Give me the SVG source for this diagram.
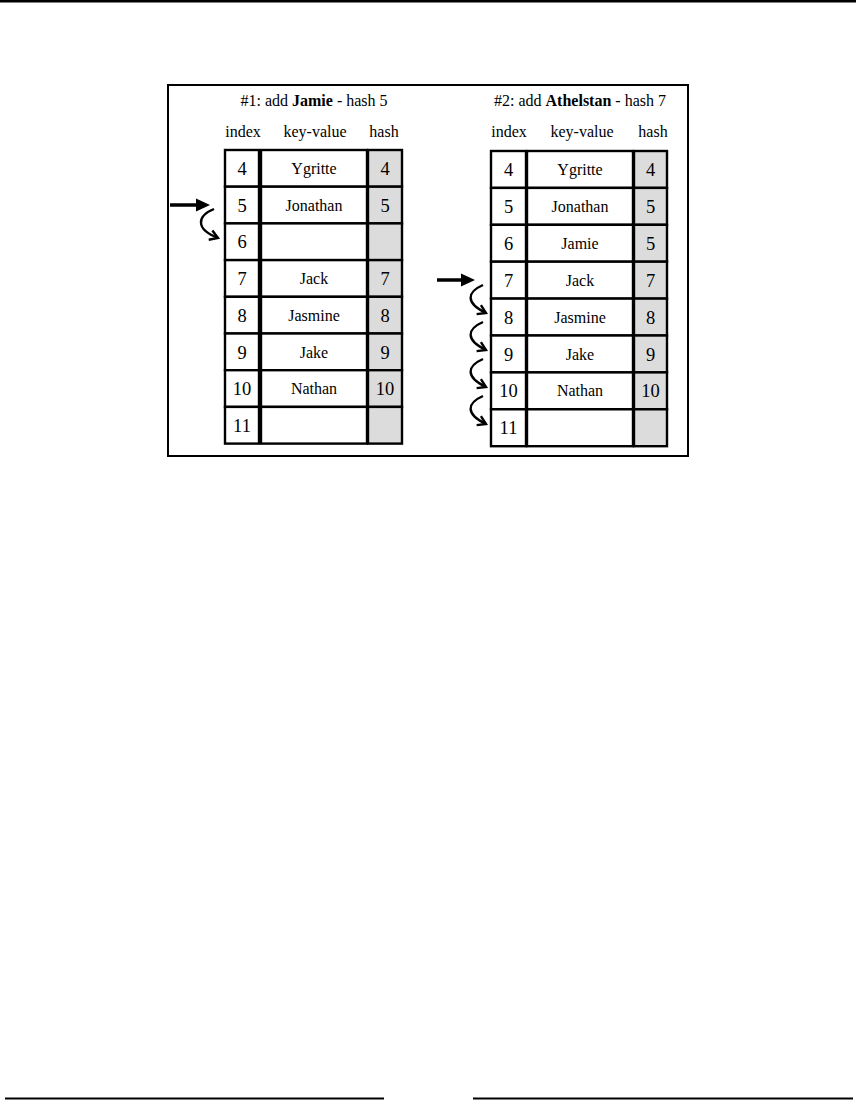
<svg xmlns="http://www.w3.org/2000/svg" width="856" height="1105" viewBox="0 0 856 1105" font-family="'Liberation Serif', 'DejaVu Serif', serif">
<style>
  text { font-family: 'Liberation Serif', 'DejaVu Serif', serif; fill: #000; }
  .hdr { font-size: 16px; text-anchor: middle; }
  .col { font-size: 16px; text-anchor: middle; }
  .num { font-size: 18.5px; text-anchor: middle; }
  .name { font-size: 16px; text-anchor: middle; }
  .cell { fill: #fff; stroke: #000; stroke-width: 2.4; }
  .hcell { fill: #dcdcdc; stroke: #000; stroke-width: 2.4; }
  .frame { fill: #fff; stroke: #000; stroke-width: 2; }
  .straight { fill: none; stroke: #000; stroke-width: 3.5; }
  .curve { fill: none; stroke: #000; stroke-width: 2.4; }
</style>
<defs>
  <marker id="solidHead" markerUnits="userSpaceOnUse" markerWidth="14" markerHeight="14" viewBox="0 0 14 14" refX="4" refY="7" orient="auto" overflow="visible">
    <path d="M0,0.5 L14,7 L0,13.5 z" fill="#000"/>
  </marker>
  <marker id="openHead" markerUnits="userSpaceOnUse" markerWidth="12" markerHeight="12" viewBox="0 0 12 12" refX="9" refY="6" orient="auto" overflow="visible">
    <path d="M1,1 L9,6 L1,11" fill="none" stroke="#000" stroke-width="2.4" stroke-linejoin="miter"/>
  </marker>
</defs>
<rect x="0" y="0" width="856" height="1105" fill="#fff"/>
<rect x="0" y="0" width="856" height="2.5" fill="#000"/>
<line x1="5" y1="1098.5" x2="384" y2="1098.5" stroke="#000" stroke-width="2"/>
<line x1="473" y1="1098.5" x2="853" y2="1098.5" stroke="#000" stroke-width="2"/>

<rect id="frame" class="frame" x="168" y="85" width="520" height="371"/>

<g id="left-header">
  <text class="hdr" x="314" y="106">#1: add <tspan font-weight="bold">Jamie</tspan> - hash 5</text>
  <text class="col" x="243" y="137">index</text>
  <text class="col" x="315" y="137">key-value</text>
  <text class="col" x="384" y="137">hash</text>
</g>

<g id="left-table">
  <g id="L4"><rect class="cell" x="225" y="150" width="34" height="36.7"/><rect class="cell" x="261" y="150" width="106" height="36.7"/><rect class="hcell" x="368" y="150" width="34" height="36.7"/>
    <text class="num" x="242" y="175">4</text><text class="name" x="314" y="174">Ygritte</text><text class="num" x="385" y="175">4</text></g>
  <g id="L5"><rect class="cell" x="225" y="186.7" width="34" height="36.7"/><rect class="cell" x="261" y="186.7" width="106" height="36.7"/><rect class="hcell" x="368" y="186.7" width="34" height="36.7"/>
    <text class="num" x="242" y="211.7">5</text><text class="name" x="314" y="210.7">Jonathan</text><text class="num" x="385" y="211.7">5</text></g>
  <g id="L6"><rect class="cell" x="225" y="223.4" width="34" height="36.7"/><rect class="cell" x="261" y="223.4" width="106" height="36.7"/><rect class="hcell" x="368" y="223.4" width="34" height="36.7"/>
    <text class="num" x="242" y="248.4">6</text></g>
  <g id="L7"><rect class="cell" x="225" y="260.1" width="34" height="36.7"/><rect class="cell" x="261" y="260.1" width="106" height="36.7"/><rect class="hcell" x="368" y="260.1" width="34" height="36.7"/>
    <text class="num" x="242" y="285.1">7</text><text class="name" x="314" y="284.1">Jack</text><text class="num" x="385" y="285.1">7</text></g>
  <g id="L8"><rect class="cell" x="225" y="296.8" width="34" height="36.7"/><rect class="cell" x="261" y="296.8" width="106" height="36.7"/><rect class="hcell" x="368" y="296.8" width="34" height="36.7"/>
    <text class="num" x="242" y="321.8">8</text><text class="name" x="314" y="320.8">Jasmine</text><text class="num" x="385" y="321.8">8</text></g>
  <g id="L9"><rect class="cell" x="225" y="333.5" width="34" height="36.7"/><rect class="cell" x="261" y="333.5" width="106" height="36.7"/><rect class="hcell" x="368" y="333.5" width="34" height="36.7"/>
    <text class="num" x="242" y="358.5">9</text><text class="name" x="314" y="357.5">Jake</text><text class="num" x="385" y="358.5">9</text></g>
  <g id="L10"><rect class="cell" x="225" y="370.2" width="34" height="36.7"/><rect class="cell" x="261" y="370.2" width="106" height="36.7"/><rect class="hcell" x="368" y="370.2" width="34" height="36.7"/>
    <text class="num" x="242" y="395.2">10</text><text class="name" x="314" y="394.2">Nathan</text><text class="num" x="385" y="395.2">10</text></g>
  <g id="L11"><rect class="cell" x="225" y="406.9" width="34" height="36.7"/><rect class="cell" x="261" y="406.9" width="106" height="36.7"/><rect class="hcell" x="368" y="406.9" width="34" height="36.7"/>
    <text class="num" x="242" y="431.9">11</text></g>
</g>

<g id="right-header">
  <text class="hdr" x="580" y="106">#2: add <tspan font-weight="bold">Athelstan</tspan> - hash 7</text>
  <text class="col" x="509" y="137">index</text>
  <text class="col" x="582" y="137">key-value</text>
  <text class="col" x="653" y="137">hash</text>
</g>

<g id="right-table">
  <g id="R4"><rect class="cell" x="491" y="151" width="35" height="36.9"/><rect class="cell" x="527" y="151" width="106" height="36.9"/><rect class="hcell" x="634" y="151" width="33" height="36.9"/>
    <text class="num" x="508.5" y="176">4</text><text class="name" x="580" y="175">Ygritte</text><text class="num" x="650.5" y="176">4</text></g>
  <g id="R5"><rect class="cell" x="491" y="187.9" width="35" height="36.9"/><rect class="cell" x="527" y="187.9" width="106" height="36.9"/><rect class="hcell" x="634" y="187.9" width="33" height="36.9"/>
    <text class="num" x="508.5" y="212.9">5</text><text class="name" x="580" y="211.9">Jonathan</text><text class="num" x="650.5" y="212.9">5</text></g>
  <g id="R6"><rect class="cell" x="491" y="224.8" width="35" height="36.9"/><rect class="cell" x="527" y="224.8" width="106" height="36.9"/><rect class="hcell" x="634" y="224.8" width="33" height="36.9"/>
    <text class="num" x="508.5" y="249.8">6</text><text class="name" x="580" y="248.8">Jamie</text><text class="num" x="650.5" y="249.8">5</text></g>
  <g id="R7"><rect class="cell" x="491" y="261.7" width="35" height="36.9"/><rect class="cell" x="527" y="261.7" width="106" height="36.9"/><rect class="hcell" x="634" y="261.7" width="33" height="36.9"/>
    <text class="num" x="508.5" y="286.7">7</text><text class="name" x="580" y="285.7">Jack</text><text class="num" x="650.5" y="286.7">7</text></g>
  <g id="R8"><rect class="cell" x="491" y="298.6" width="35" height="36.9"/><rect class="cell" x="527" y="298.6" width="106" height="36.9"/><rect class="hcell" x="634" y="298.6" width="33" height="36.9"/>
    <text class="num" x="508.5" y="323.6">8</text><text class="name" x="580" y="322.6">Jasmine</text><text class="num" x="650.5" y="323.6">8</text></g>
  <g id="R9"><rect class="cell" x="491" y="335.5" width="35" height="36.9"/><rect class="cell" x="527" y="335.5" width="106" height="36.9"/><rect class="hcell" x="634" y="335.5" width="33" height="36.9"/>
    <text class="num" x="508.5" y="360.5">9</text><text class="name" x="580" y="359.5">Jake</text><text class="num" x="650.5" y="360.5">9</text></g>
  <g id="R10"><rect class="cell" x="491" y="372.4" width="35" height="36.9"/><rect class="cell" x="527" y="372.4" width="106" height="36.9"/><rect class="hcell" x="634" y="372.4" width="33" height="36.9"/>
    <text class="num" x="508.5" y="397.4">10</text><text class="name" x="580" y="396.4">Nathan</text><text class="num" x="650.5" y="397.4">10</text></g>
  <g id="R11"><rect class="cell" x="491" y="409.3" width="35" height="36.9"/><rect class="cell" x="527" y="409.3" width="106" height="36.9"/><rect class="hcell" x="634" y="409.3" width="33" height="36.9"/>
    <text class="num" x="508.5" y="434.3">11</text></g>
</g>

<g id="connectors">
  <path class="straight" d="M170,205 L200,205" marker-end="url(#solidHead)"/>
  <path class="curve" d="M214,209 C197,216 195,229 218,238" marker-end="url(#openHead)"/>
  <path class="straight" d="M437,280 L465,280" marker-end="url(#solidHead)"/>
  <path class="curve" d="M483,285 C467,292 465,303 486,313" marker-end="url(#openHead)"/>
  <path class="curve" d="M483,322 C467,329 465,340 486,350" marker-end="url(#openHead)"/>
  <path class="curve" d="M483,359 C467,366 465,377 486,387" marker-end="url(#openHead)"/>
  <path class="curve" d="M483,396 C467,403 465,414 486,424" marker-end="url(#openHead)"/>
</g>
</svg>
